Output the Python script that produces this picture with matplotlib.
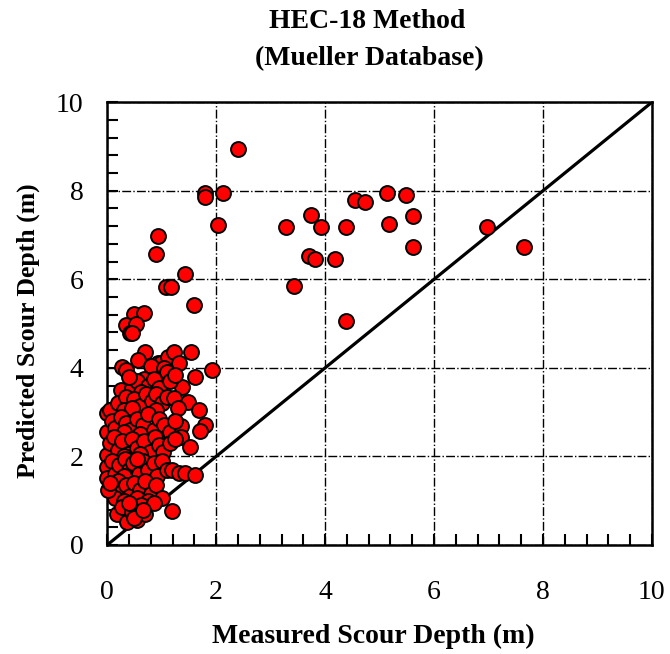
import matplotlib
matplotlib.use('Agg')
import matplotlib.pyplot as plt
from matplotlib.ticker import MultipleLocator

plt.rcParams['font.family'] = ['Liberation Serif', 'DejaVu Serif']

# measured vs predicted scour depth (m)
measured = [
    # sparse upper points
    2.41, 1.80, 1.80, 2.12, 2.04, 3.28, 0.93, 0.90, 1.42, 1.08, 1.17, 1.59,
    0.50, 0.67, 0.34, 0.53, 0.42, 0.46,
    3.74, 3.92, 3.71, 3.81, 4.18, 3.43, 4.38, 4.38, 4.55, 4.73, 5.13, 5.49,
    5.17, 5.62, 5.62, 6.97, 7.65,
    # 4.0 - 4.4
    0.27, 0.34, 0.70, 0.57, 0.94, 0.99, 1.12, 1.23, 1.31, 1.54, 0.80, 1.05,
    # 3.5 - 4.0
    0.67, 1.09, 1.61, 1.92, 1.37, 0.26, 0.45, 0.55, 0.75, 0.85, 0.95, 1.15,
    1.25, 0.40, 0.62,
    # 3.0 - 3.5
    0.00, 0.05, 0.20, 0.35, 0.50, 0.60, 0.72, 0.82, 0.90, 1.00, 1.10, 1.22,
    1.49, 1.68, 0.30, 0.45, 0.90, 1.30,
    # 2.5 - 3.0
    0.00, 0.08, 0.15, 0.25, 0.35, 0.42, 0.55, 0.65, 0.75, 0.85, 0.95, 1.05,
    1.15, 1.36, 1.80, 1.71, 0.30, 0.60, 1.25,
    # 2.0 - 2.5
    0.00, 0.05, 0.12, 0.20, 0.28, 0.38, 0.45, 0.55, 0.68, 0.78, 0.88, 0.95,
    1.03, 1.36, 1.52, 1.15, 0.30, 0.60, 1.25,
    # 1.5 - 2.0
    0.00, 0.00, 0.08, 0.15, 0.22, 0.32, 0.40, 0.48, 0.58, 0.66, 0.75, 0.85,
    0.92, 1.00, 1.09, 1.19, 1.31, 1.43, 1.61, 0.30, 0.55,
    # 1.0 - 1.5
    0.10, 0.20, 0.25, 0.35, 0.42, 0.50, 0.60, 0.70, 0.80, 0.90, 1.00, 0.15,
    0.55, 0.75, 0.30, 0.02, 0.05,
    # 0.5 - 1.0
    0.18, 0.36, 0.54, 0.28, 0.45, 0.62, 0.70, 0.85, 1.19, 0.40, 0.50, 0.65,
]
predicted = [
    8.94, 7.96, 7.86, 7.96, 7.23, 7.19, 6.98, 6.58, 6.12, 5.83, 5.83, 5.43,
    5.22, 5.24, 4.97, 4.99, 4.79, 4.78,
    7.46, 7.19, 6.53, 6.46, 6.46, 5.85, 7.19, 5.06, 7.79, 7.74, 7.95, 7.90,
    7.24, 7.43, 6.73, 7.19, 6.73,
    4.02, 3.95, 4.35, 4.18, 4.10, 4.12, 4.25, 4.35, 4.10, 4.35, 4.05, 4.00,
    3.76, 3.91, 3.80, 3.95, 3.57, 3.50, 3.55, 3.70, 3.60, 3.75, 3.55, 3.70,
    3.85, 3.80, 3.45,
    2.97, 3.05, 3.20, 3.35, 3.30, 3.15, 3.40, 3.25, 3.40, 3.20, 3.35, 3.33,
    3.22, 3.05, 3.05, 3.10, 3.05, 3.10,
    2.56, 2.80, 2.65, 2.90, 2.75, 2.60, 2.85, 2.70, 2.95, 2.60, 2.85, 2.70,
    2.55, 2.69, 2.71, 2.58, 2.55, 2.50, 2.80,
    2.03, 2.30, 2.45, 2.15, 2.35, 2.05, 2.40, 2.20, 2.35, 2.10, 2.45, 2.25,
    2.11, 2.43, 2.22, 2.30, 2.00, 2.05, 2.40,
    1.77, 1.51, 1.90, 1.60, 1.80, 1.95, 1.70, 1.85, 1.60, 1.90, 1.70, 1.85,
    1.55, 1.90, 1.69, 1.69, 1.62, 1.62, 1.58, 1.55, 1.95,
    1.30, 1.45, 1.20, 1.35, 1.10, 1.40, 1.25, 1.45, 1.15, 1.35, 1.05, 1.05,
    1.05, 1.00, 1.00, 1.25, 1.40,
    0.70, 0.53, 0.56, 0.85, 0.75, 0.90, 0.70, 0.95, 0.77, 0.95, 0.62, 0.80,
]
equality = [0, 10]

fig = plt.figure(figsize=(6.7, 6.54), dpi=100)
ax = fig.add_axes([0.16, 0.1667, 0.813, 0.677])

ax.plot(equality, equality, color='black', linewidth=2.3, zorder=2)
ax.scatter(measured, predicted, s=115, facecolor='#ff0000', edgecolor='black',
           linewidth=1.4, zorder=3, clip_on=False)

ax.set_xlim(0, 10)
ax.set_ylim(0, 10)
ax.xaxis.set_major_locator(MultipleLocator(2))
ax.yaxis.set_major_locator(MultipleLocator(2))
ax.xaxis.set_minor_locator(MultipleLocator(0.4))
ax.yaxis.set_minor_locator(MultipleLocator(0.4))
ax.tick_params(which='both', direction='in', top=False, right=False,
               width=1.5, labelsize=20, length=8)
ax.tick_params(axis='x', pad=25)
ax.tick_params(axis='y', pad=17)
for s in ax.spines.values():
    s.set_linewidth(1.8)

ax.grid(True, which='major', color='black', linestyle='-.', linewidth=1.0)

ax.set_xlabel('Measured Scour Depth (m)', fontsize=20, fontweight='bold')
ax.set_ylabel('Predicted Scour Depth (m)', fontsize=18.5, fontweight='bold')
ax.xaxis.set_label_coords(0.488, -0.178)
ax.yaxis.set_label_coords(-0.124, 0.483)

fig.text(0.548, 0.957, 'HEC-18 Method', ha='center', va='baseline',
         fontsize=20, fontweight='bold')
fig.text(0.551, 0.901, '(Mueller Database)', ha='center', va='baseline',
         fontsize=20, fontweight='bold')

fig.savefig('out.png', dpi=100)
